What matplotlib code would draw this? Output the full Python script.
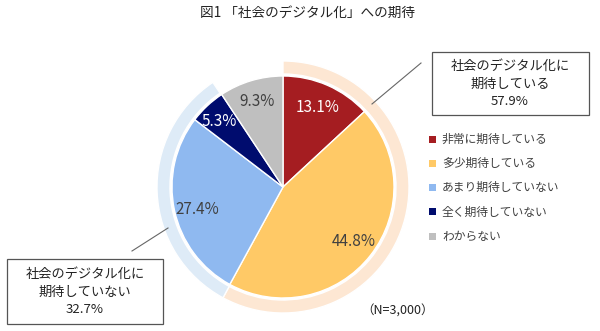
import matplotlib
matplotlib.use('Agg')
import matplotlib.pyplot as plt
from matplotlib.patches import Wedge, Rectangle

plt.rcParams['font.family'] = ['Noto Sans CJK JP', 'DejaVu Sans']

# answers to the survey question (N=3,000)
categories = ['非常に期待している', '多少期待している', 'あまり期待していない', '全く期待していない', 'わからない']
shares = [13.1, 44.8, 27.4, 5.3, 9.3]
colors = ['#A51D21', '#FFC966', '#8FB9F0', '#000C6E', '#BFBFBF']
label_colors = ['white', '#404040', '#404040', 'white', '#404040']

# grouped totals shown on the outer rings
group_totals = [57.9, 32.7]
group_labels = ['社会のデジタル化に\n期待している', '社会のデジタル化に\n期待していない']
ring_colors = ['#FDE7D3', '#DEEBF7']

W, H = 600, 331
fig = plt.figure(figsize=(6, 3.31), dpi=100)
ax = fig.add_axes([0, 0, 1, 1])

cx, cy = 283, H - 187
r = 111

wedges, texts, autotexts = ax.pie(
    shares, colors=colors, startangle=90, counterclock=False,
    radius=r, center=(cx, cy), autopct='%.1f%%', pctdistance=0.68,
    wedgeprops=dict(edgecolor='white', linewidth=1.0),
    textprops=dict(fontsize=11))

# percentage labels sit where they fit best inside each slice
label_pos = [(318, 107), (354, 241), (197, 209), (219, 121), (257, 102)]
for t, c, (px, py) in zip(autotexts, label_colors, label_pos):
    t.set_color(c)
    t.set_position((px, H - py))

# outer rings for the two groups
theta = 90
for tot, rc in zip(group_totals, ring_colors):
    span = tot * 3.6
    ax.add_patch(Wedge((cx, cy), 126, theta - span, theta, width=13,
                       facecolor=rc, edgecolor='white', linewidth=1.0))
    theta -= span

ax.set_xlim(0, W)
ax.set_ylim(0, H)
ax.set_aspect('equal')
ax.axis('off')

ax.text(308, H - 13, '図1 「社会のデジタル化」への期待', ha='center', va='center',
        fontsize=9.8, color='#222222')

# callout boxes
ax.add_patch(Rectangle((432, H - 115), 157, 63, facecolor='white',
                       edgecolor='#555555', linewidth=0.9))
ax.text(510, H - 84, f'{group_labels[0]}\n{group_totals[0]}%', ha='center', va='center',
        fontsize=9.5, color='#222222', linespacing=1.45)
ax.plot([372, 421], [H - 104, H - 63], color='#666666', linewidth=0.8)

ax.add_patch(Rectangle((7, H - 324), 156, 65, facecolor='white',
                       edgecolor='#555555', linewidth=0.9))
ax.text(85, H - 292, f'{group_labels[1]}\n{group_totals[1]}%', ha='center', va='center',
        fontsize=9.5, color='#222222', linespacing=1.45)
ax.plot([132, 168], [H - 251, H - 228], color='#666666', linewidth=0.8)

# legend
for i, (name, c) in enumerate(zip(categories, colors)):
    y = H - (139 + i * 24.3)
    ax.add_patch(Rectangle((429, y - 3.5), 7, 7, facecolor=c, edgecolor='none'))
    ax.text(442, y, name, ha='left', va='center', fontsize=8.5, color='#404040')

ax.text(398, H - 311, '（N=3,000）', ha='center', va='center', fontsize=9, color='#222222')

fig.savefig('out.png', dpi=100)
